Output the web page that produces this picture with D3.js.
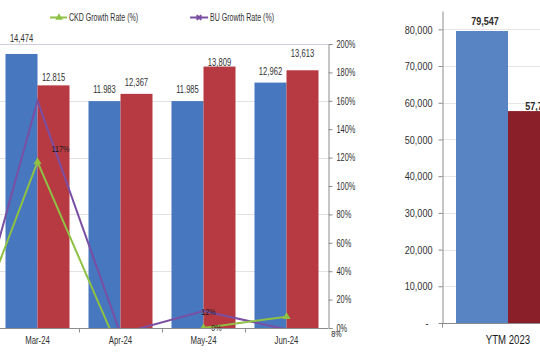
<!DOCTYPE html>
<html><head><meta charset="utf-8">
<script src="https://cdn.jsdelivr.net/npm/d3@7"></script>
<style>
html,body{margin:0;padding:0;background:#fff;}
svg{display:block;font-family:"Liberation Sans",Arial,sans-serif;}
</style></head>
<body>
<svg id="c" width="540" height="360"></svg>
<script>
// ---------- data ----------
const months = ["Feb-24", "Mar-24", "Apr-24", "May-24", "Jun-24"];
const ckdUnits = [null, 14474, 11983, 11985, 12962];
const buUnits = [null, 12815, 12367, 13809, 13613];
const unitLabelsCkd = [null, "14,474", "11.983", "11.985", "12,962"];
const unitLabelsBu = [null, "12.815", "12,367", "13,809", "13,613"];
const ckdGrowth = [-37, 117, -18, 0, 8];
const buGrowth = [-51, 160, -4, 12, -1];
const leftTicks = [0, 3000, 6000, 9000, 12000, 15000];
const pctTicks = [0, 0.2, 0.4, 0.6, 0.8, 1.0, 1.2, 1.4, 1.6, 1.8, 2.0];
const legendNames = ["CKD Growth Rate (%)", "BU Growth Rate (%)"];

const ytmCats = ["YTM 2023"];
const ytmCkd = [79547];
const ytmBu = [57735];
const ytmLabelsCkd = ["79,547"];
const ytmLabelsBu = ["57,735"];
const ytmTicks = [0, 10000, 20000, 30000, 40000, 50000, 60000, 70000, 80000];

// ---------- styling (not data) ----------
const BLUE = "#4677bf", RED = "#b73a43", GREEN = "#8fc144", PURPLE = "#7a4fa3";
const BLUE2 = "#5884c4", RED2 = "#8a1f29";
const TXT = "#303030";
const liftCkd = [0, 12, 8, 8, 8];
const liftBu = [0, 4, 8, 1, 13];
const lineLabelPos = [
  {s: "ckd", i: 1, dx: 23, dy: -10},
  {s: "bu", i: 3, dx: 5, dy: 4},
  {s: "ckd", i: 3, dx: 13, dy: 3},
  {s: "ckd", i: 4, dx: 50, dy: 20}
];

// horizontally condense text around its anchor (mimics a narrow font)
function narrow(sel, k) {
  sel.each(function () {
    const t = d3.select(this);
    const ax = +t.attr("x") || 0, ay = +t.attr("y") || 0;
    const prev = t.attr("transform") || "";
    t.attr("transform", `${prev} translate(${ax},${ay}) scale(${k},1) translate(${-ax},${-ay})`);
  });
}

const svg = d3.select("#c");

// ================= LEFT CHART =================
const L = {left: -87, right: 328, top: 44, bottom: 328};
const x = d3.scaleBand().domain(months).range([L.left, L.right]);
const yL = d3.scaleLinear().domain([0, 15000]).range([L.bottom, L.top]);
const yR = d3.scaleLinear().domain([0, 2]).range([L.bottom, L.top]);
const barW = 32;
const cx = (m) => x(m) + x.bandwidth() / 2;

// gridlines
svg.append("g").selectAll("line").data(leftTicks.filter(d => d > 0)).join("line")
  .attr("x1", 0).attr("x2", L.right)
  .attr("y1", d => Math.round(yL(d)) + 0.5).attr("y2", d => Math.round(yL(d)) + 0.5)
  .attr("stroke", (d) => d === 15000 ? "#cfcbe0" : "#e2e2e2").attr("stroke-width", 1);

// bars
const gb = svg.append("g");
months.forEach((m, i) => {
  const c = cx(m);
  if (ckdUnits[i] != null) {
    gb.append("rect").attr("x", c - barW).attr("width", barW)
      .attr("y", yL(ckdUnits[i])).attr("height", L.bottom - yL(ckdUnits[i])).attr("fill", BLUE);
    gb.append("text").attr("x", c - barW / 2).attr("y", yL(ckdUnits[i]) - liftCkd[i])
      .attr("text-anchor", "middle").attr("font-size", 10).attr("fill", TXT).text(unitLabelsCkd[i]);
  }
  if (buUnits[i] != null) {
    gb.append("rect").attr("x", c).attr("width", barW)
      .attr("y", yL(buUnits[i])).attr("height", L.bottom - yL(buUnits[i])).attr("fill", RED);
    gb.append("text").attr("x", c + barW / 2).attr("y", yL(buUnits[i]) - liftBu[i])
      .attr("text-anchor", "middle").attr("font-size", 10).attr("fill", TXT).text(unitLabelsBu[i]);
  }
});
narrow(gb.selectAll("text"), 0.76);

// clip for lines
svg.append("defs").append("clipPath").attr("id", "clipL").append("rect")
  .attr("x", L.left - 10).attr("y", L.top - 2).attr("width", L.right - L.left + 10).attr("height", L.bottom - L.top + 2);

const lineGen = d3.line().x((d, i) => cx(months[i])).y(d => yR(d / 100));
const gl = svg.append("g").attr("clip-path", "url(#clipL)");
gl.append("path").attr("d", lineGen(buGrowth)).attr("fill", "none").attr("stroke", PURPLE).attr("stroke-width", 2);
gl.append("path").attr("d", lineGen(ckdGrowth)).attr("fill", "none").attr("stroke", GREEN).attr("stroke-width", 2);
const tri = d3.symbol().type(d3.symbolTriangle).size(28);
gl.selectAll("path.tri").data(ckdGrowth).join("path").attr("class", "tri")
  .attr("d", tri).attr("transform", (d, i) => `translate(${cx(months[i])},${yR(d / 100)})`)
  .attr("fill", GREEN);

// line labels
const gll = svg.append("g");
lineLabelPos.forEach(p => {
  const arr = p.s === "ckd" ? ckdGrowth : buGrowth;
  gll.append("text").attr("x", cx(months[p.i]) + p.dx).attr("y", yR(arr[p.i] / 100) + p.dy)
    .attr("text-anchor", "middle").attr("font-size", 9.5).attr("fill", "#1a1a1a")
    .text(d3.format("d")(arr[p.i]) + "%");
});
narrow(gll.selectAll("text"), 0.76);

// x axis
const gx = svg.append("g").attr("transform", `translate(0,${L.bottom + 0.5})`);
gx.append("line").attr("x1", 0).attr("x2", L.right).attr("stroke", "#8c8c8c");
gx.selectAll("line.tk").data(months.slice(1)).join("line").attr("class", "tk")
  .attr("x1", d => Math.round(x(d)) + 0.5).attr("x2", d => Math.round(x(d)) + 0.5)
  .attr("y1", 0).attr("y2", 4).attr("stroke", "#8c8c8c");
gx.selectAll("text").data(months.filter(m => cx(m) > 0)).join("text")
  .attr("x", d => cx(d)).attr("y", 15.5).attr("text-anchor", "middle")
  .attr("font-size", 10).attr("fill", TXT).text(d => d);
narrow(gx.selectAll("text"), 0.78);

// right axis
const gr = svg.append("g").attr("transform", `translate(${L.right + 0.5},0)`)
  .call(d3.axisRight(yR).tickValues(pctTicks).tickFormat(d3.format(".0%")).tickSize(4).tickPadding(4));
gr.select(".domain").attr("stroke", "#8c8c8c");
gr.selectAll(".tick line").attr("stroke", "#8c8c8c");
gr.selectAll(".tick text").attr("font-size", 10).attr("fill", TXT).attr("font-family", null);
narrow(gr.selectAll(".tick text"), 0.74);

// legend
const lg = svg.append("g");
lg.append("line").attr("x1", 50).attr("x2", 67).attr("y1", 17.5).attr("y2", 17.5).attr("stroke", GREEN).attr("stroke-width", 2);
lg.append("path").attr("d", d3.symbol().type(d3.symbolTriangle).size(24)).attr("transform", "translate(59,17.5)").attr("fill", GREEN);
lg.append("text").attr("x", 69).attr("y", 21).attr("font-size", 10.5).attr("fill", TXT).text(legendNames[0]);
lg.append("line").attr("x1", 190).attr("x2", 208).attr("y1", 17.5).attr("y2", 17.5).attr("stroke", PURPLE).attr("stroke-width", 2);
lg.append("path").attr("d", d3.symbol().type(d3.symbolCross).size(24)).attr("transform", "translate(199,17.5) rotate(45)").attr("fill", PURPLE);
lg.append("text").attr("x", 210).attr("y", 21).attr("font-size", 10.5).attr("fill", TXT).text(legendNames[1]);
narrow(lg.selectAll("text"), 0.67);

// ================= RIGHT CHART =================
const R = {left: 442, top: 11, bottom: 323};
const x2 = d3.scaleBand().domain(ytmCats).range([R.left, R.left + 132]);
const y2 = d3.scaleLinear().domain([0, 85000]).range([R.bottom, R.top]);
const bw2 = 52;

svg.append("g").selectAll("line").data(ytmTicks.filter(d => d > 0)).join("line")
  .attr("x1", R.left).attr("x2", 540)
  .attr("y1", d => Math.round(y2(d)) + 0.5).attr("y2", d => Math.round(y2(d)) + 0.5)
  .attr("stroke", "#e6e6e6");

const gb2 = svg.append("g");
ytmCats.forEach((c, i) => {
  const m = x2(c) + x2.bandwidth() / 2;
  gb2.append("rect").attr("x", m - bw2).attr("width", bw2).attr("y", y2(ytmCkd[i]))
    .attr("height", R.bottom - y2(ytmCkd[i])).attr("fill", BLUE2);
  gb2.append("rect").attr("x", m).attr("width", bw2).attr("y", y2(ytmBu[i]))
    .attr("height", R.bottom - y2(ytmBu[i])).attr("fill", RED2);
  gb2.append("text").attr("x", m - bw2 / 2 + 3).attr("y", y2(ytmCkd[i]) - 6).attr("text-anchor", "middle")
    .attr("font-size", 10.5).attr("font-weight", "bold").attr("fill", "#2a2a2a").text(ytmLabelsCkd[i]);
  gb2.append("text").attr("x", m + bw2 / 2 + 5).attr("y", y2(ytmBu[i]) - 1).attr("text-anchor", "middle")
    .attr("font-size", 10.5).attr("font-weight", "bold").attr("fill", "#2a2a2a").text(ytmLabelsBu[i]);
});
narrow(gb2.selectAll("text"), 0.86);

const gy2 = svg.append("g").attr("transform", `translate(${R.left + 0.5},0)`)
  .call(d3.axisLeft(y2).tickValues(ytmTicks).tickFormat(d => d === 0 ? "-" : d3.format(",")(d)).tickSize(4).tickPadding(6).tickSizeOuter(0));
gy2.select(".domain").attr("stroke", "#8c8c8c");
gy2.selectAll(".tick line").attr("stroke", "#8c8c8c");
gy2.selectAll(".tick text").attr("font-size", 11.5).attr("fill", TXT).attr("font-family", null)
  .attr("dx", d => d === 0 ? -5 : 0);
narrow(gy2.selectAll(".tick text"), 0.79);

const gx2 = svg.append("g").attr("transform", `translate(0,${R.bottom + 0.5})`);
gx2.append("line").attr("x1", R.left).attr("x2", 540).attr("stroke", "#8c8c8c");
gx2.append("line").attr("x1", R.left + 0.5).attr("x2", R.left + 0.5).attr("y1", 0).attr("y2", 4).attr("stroke", "#8c8c8c");
gx2.selectAll("text").data(ytmCats).join("text")
  .attr("x", d => x2(d) + x2.bandwidth() / 2).attr("y", 21).attr("text-anchor", "middle")
  .attr("font-size", 12).attr("fill", "#1a1a1a").text(d => d);
narrow(gx2.selectAll("text"), 0.8);
</script>
</body></html>
